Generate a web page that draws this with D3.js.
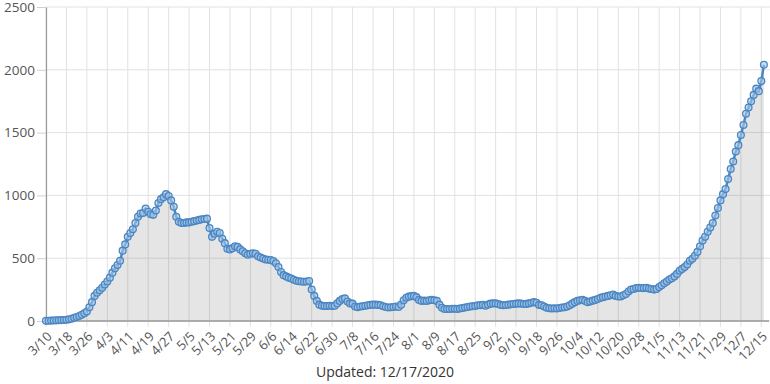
<!DOCTYPE html>
<html>
<head>
<meta charset="utf-8">
<script src="https://cdn.jsdelivr.net/npm/d3@7"></script>
<style>
  body { margin: 0; background: #fff; }
  svg text { font-family: "Open Sans", sans-serif; }
</style>
</head>
<body>
<svg id="chart" width="770" height="384"></svg>
<script>
// daily counts, 3/10/2020 through 12/16/2020
const startDate = '2020-03-10';
const values = [
  1, 2, 3, 4, 5, 6, 7, 8, 10, 13,
  18, 25, 32, 40, 50, 62, 75, 110, 150, 200,
  225, 245, 265, 290, 315, 345, 385, 420, 445, 480,
  560, 610, 670, 700, 730, 780, 830, 855, 860, 895,
  870, 850, 845, 880, 940, 970, 985, 1010, 995, 960,
  910, 830, 790, 780, 780, 785, 785, 790, 795, 800,
  805, 810, 812, 815, 740, 670, 695, 710, 700, 655,
  620, 575, 570, 580, 595, 590, 570, 555, 540, 528,
  535, 540, 535, 515, 505, 498, 490, 488, 485, 478,
  460, 430, 390, 365, 355, 345, 338, 328, 320, 316,
  314, 313, 314, 318, 250, 200, 160, 130, 122, 120,
  120, 122, 120, 122, 140, 160, 175, 180, 155, 140,
  138, 115, 110, 115, 118, 122, 125, 128, 130, 130,
  128, 125, 118, 112, 108, 110, 112, 115, 112, 130,
  165, 185, 194, 198, 200, 190, 168, 160, 162, 160,
  165, 168, 165, 160, 130, 105, 95, 95, 96, 97,
  98, 96, 100, 104, 108, 112, 115, 118, 120, 125,
  125, 128, 122, 130, 138, 140, 140, 135, 128, 125,
  127, 130, 133, 135, 138, 140, 138, 135, 136, 140,
  145, 150, 145, 128, 125, 115, 105, 102, 100, 102,
  100, 104, 108, 110, 115, 125, 138, 150, 160, 165,
  168, 160, 150, 155, 162, 168, 175, 185, 190, 195,
  200, 205, 210, 200, 195, 195, 205, 215, 235, 250,
  255, 262, 265, 263, 262, 265, 258, 255, 250, 255,
  270, 285, 300, 315, 330, 340, 355, 375, 400, 415,
  430, 450, 480, 495, 520, 550, 595, 640, 670, 710,
  745, 780, 840, 900, 960, 1010, 1050, 1130, 1210, 1270,
  1350, 1400, 1480, 1560, 1650, 1700, 1750, 1800, 1850, 1830,
  1910, 2040
];
const xTickLabels = [
  '3/10', '3/18', '3/26', '4/3', '4/11', '4/19', '4/27', '5/5', '5/13',
  '5/21', '5/29', '6/6', '6/14', '6/22', '6/30', '7/8', '7/16', '7/24',
  '8/1', '8/9', '8/17', '8/25', '9/2', '9/10', '9/18', '9/26', '10/4',
  '10/12', '10/20', '10/28', '11/5', '11/13', '11/21', '11/29', '12/7', '12/15'
];
const yTicks = [0, 500, 1000, 1500, 2000, 2500];
const updatedText = 'Updated: 12/17/2020';

(function () {
  const svg = d3.select('#chart');
  const margin = { left: 46, right: 769, top: 7, bottom: 321 };

  const parseDay = d3.timeParse('%Y-%m-%d');
  const t0 = parseDay(startDate);
  const data = values.map(function (v, i) {
    return { date: d3.timeDay.offset(t0, i), value: v };
  });
  const tickDates = xTickLabels.map(function (s) {
    return d3.timeParse('%m/%d/%Y')(s + '/2020');
  });

  const x = d3.scaleTime()
    .domain([t0, d3.timeDay.offset(t0, 283)])
    .range([margin.left, margin.right]);
  const y = d3.scaleLinear()
    .domain([0, 2500])
    .range([margin.bottom, margin.top]);

  // grid
  svg.append('g')
    .selectAll('line')
    .data(yTicks)
    .enter().append('line')
    .attr('x1', margin.left).attr('x2', 770)
    .attr('y1', function (d) { return y(d); })
    .attr('y2', function (d) { return y(d); })
    .attr('stroke', '#e2e2e2')
    .attr('stroke-width', 1);

  svg.append('g')
    .selectAll('line')
    .data(tickDates)
    .enter().append('line')
    .attr('x1', function (d) { return x(d); })
    .attr('x2', function (d) { return x(d); })
    .attr('y1', margin.top).attr('y2', margin.bottom + 6)
    .attr('stroke', '#e2e2e2')
    .attr('stroke-width', 1);

  // area
  const area = d3.area()
    .x(function (d) { return x(d.date); })
    .y0(y(0))
    .y1(function (d) { return y(d.value); });

  svg.append('path')
    .datum(data)
    .attr('d', area)
    .attr('fill', '#000')
    .attr('fill-opacity', 0.1);

  // axes
  const yAxis = d3.axisLeft(y)
    .tickValues(yTicks)
    .tickFormat(d3.format('d'))
    .tickSize(9)
    .tickSizeOuter(0)
    .tickPadding(2);

  const gy = svg.append('g')
    .attr('transform', 'translate(' + margin.left + ',0)')
    .call(yAxis);
  gy.select('.domain').attr('stroke', '#9a9a9a').attr('stroke-width', 1.2);
  gy.selectAll('.tick line').attr('stroke', '#cfcfcf');
  gy.selectAll('.tick text')
    .attr('fill', '#555')
    .style('font-size', '13.5px');

  const xAxis = d3.axisBottom(x)
    .tickValues(tickDates)
    .tickFormat(function (d, i) { return xTickLabels[i]; })
    .tickSize(0)
    .tickSizeOuter(0);

  const gx = svg.append('g')
    .attr('transform', 'translate(0,' + margin.bottom + ')')
    .call(xAxis);
  gx.select('.domain')
    .attr('d', 'M' + margin.left + ',0H' + margin.right)
    .attr('stroke', '#9a9a9a')
    .attr('stroke-width', 1.5);
  gx.selectAll('.tick text')
    .attr('fill', '#555')
    .style('font-size', '13px')
    .style('text-anchor', 'end')
    .attr('x', 0)
    .attr('y', 0)
    .attr('dy', '0.35em')
    .attr('transform', 'translate(3,13) rotate(-45)');

  // line + points
  const line = d3.line()
    .x(function (d) { return x(d.date); })
    .y(function (d) { return y(d.value); });

  svg.append('path')
    .datum(data)
    .attr('d', line)
    .attr('fill', 'none')
    .attr('stroke', '#4a86c4')
    .attr('stroke-width', 2.5);

  svg.append('g')
    .selectAll('circle')
    .data(data)
    .enter().append('circle')
    .attr('cx', function (d) { return x(d.date); })
    .attr('cy', function (d) { return y(d.value); })
    .attr('r', 3.4)
    .attr('fill', '#a9c8e6')
    .attr('fill-opacity', 0.6)
    .attr('stroke', '#4a86c4')
    .attr('stroke-width', 1.3);

  svg.append('text')
    .attr('x', 385)
    .attr('y', 377)
    .attr('text-anchor', 'middle')
    .attr('fill', '#333')
    .style('font-size', '14px')
    .text(updatedText);
})();
</script>
</body>
</html>
